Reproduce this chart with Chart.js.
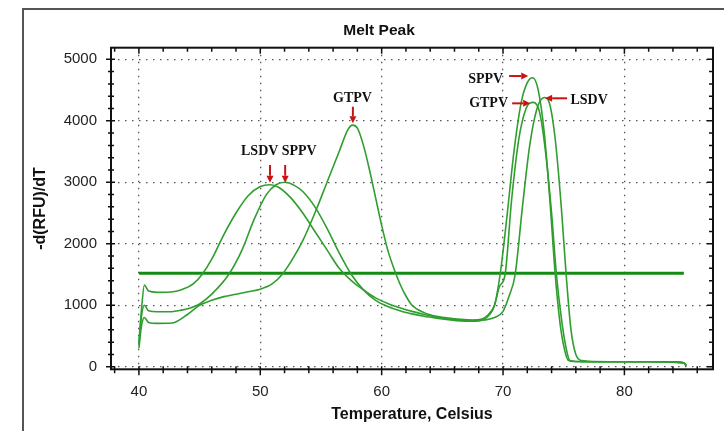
<!DOCTYPE html>
<html>
<head>
<meta charset="utf-8">
<script src="https://cdn.jsdelivr.net/npm/chart.js@4.4.1/dist/chart.umd.min.js"></script>
<style>
  html, body { margin: 0; padding: 0; background: #fff; }
  #wrap { width: 724px; height: 431px; }
</style>
</head>
<body>
<div id="wrap"><canvas id="meltChart" width="724" height="431"></canvas></div>
<script>
// melt peak curves, temperature (°C) vs -d(RFU)/dT
const lsdvT = [40.0, 40.2, 40.45, 40.8, 41.5, 42.6, 43.5, 44.5, 45.2, 46, 47, 48, 49, 50, 50.8, 51.5, 52.5, 53.5, 54.5, 55.5, 56.5, 57.5, 58.5, 59.5, 60.5, 61.5, 62.5, 63.5, 64.5, 65.5, 66.5, 67.5, 68.5, 69.3, 70.0, 70.5, 71.0, 71.6, 72.2, 72.8, 73.4, 73.8, 74.3, 74.8, 75.2, 75.6, 76.0, 76.5, 77.5, 80, 84.5, 84.9, 85.1];
const lsdvY = [400, 900, 1330, 1230, 1210, 1215, 1250, 1350, 1500, 1750, 2150, 2500, 2780, 2930, 2960, 2920, 2750, 2500, 2200, 1900, 1600, 1400, 1250, 1120, 1030, 960, 900, 850, 810, 780, 760, 750, 760, 800, 900, 1150, 1500, 2600, 3600, 4200, 4380, 4300, 3700, 2600, 1500, 600, 200, 100, 85, 80, 80, 60, 20];

const sppvT = [40.0, 40.2, 40.45, 40.8, 41.5, 42.7, 43.5, 44.3, 45, 46, 47.4, 48.5, 49.5, 50.5, 51.3, 52.05, 52.8, 53.5, 54.5, 55.5, 56.5, 57.5, 58.5, 59.5, 60.5, 61.5, 62.5, 63.5, 64.5, 65.5, 66.5, 67.5, 68.3, 68.9, 69.3, 69.76, 70.3, 70.9, 71.5, 72.0, 72.45, 72.9, 73.4, 73.9, 74.3, 74.7, 75.1, 75.4, 76, 78, 82, 84.9, 85.1];
const sppvY = [350, 800, 1000, 910, 895, 895, 920, 960, 1020, 1180, 1500, 1900, 2400, 2800, 2960, 3000, 2950, 2850, 2600, 2250, 1850, 1500, 1250, 1080, 980, 910, 860, 820, 790, 765, 745, 740, 760, 850, 1000, 1500, 2400, 3500, 4300, 4620, 4700, 4500, 3800, 2600, 1500, 700, 250, 100, 85, 80, 80, 60, 15];

const gtpvT = [40.0, 40.2, 40.45, 40.8, 41.5, 42.7, 44, 45, 46, 47, 48, 49, 50, 51, 51.8, 52.5, 53.5, 54.5, 55.5, 56.5, 57.2, 57.6, 58.0, 58.5, 59, 59.5, 60, 60.5, 61, 61.5, 62, 62.5, 63.5, 64.5, 65.5, 66.5, 67.5, 68.2, 68.8, 69.3, 69.7, 70.17, 70.7, 71.3, 71.9, 72.5, 73.0, 73.5, 74.0, 74.4, 74.8, 75.2, 75.5, 76, 78, 82, 84.9, 85.1];
const gtpvY = [300, 650, 800, 720, 705, 710, 850, 1000, 1080, 1140, 1180, 1220, 1260, 1350, 1500, 1700, 2050, 2500, 3000, 3500, 3850, 3930, 3880, 3600, 3200, 2750, 2300, 1900, 1600, 1350, 1150, 1000, 880, 820, 790, 770, 760, 770, 850, 1000, 1300, 1500, 2700, 3700, 4200, 4300, 4150, 3500, 2500, 1500, 800, 300, 100, 85, 80, 80, 60, 15];

const thresholdT = [40, 84.9];
const thresholdY = [1520, 1520];

const xTicks = [40, 50, 60, 70, 80];
const yTicks = [0, 1000, 2000, 3000, 4000, 5000];

const toPoints = (xs, ys) => xs.map((x, i) => ({ x: x, y: ys[i] }));

// peak labels: text position and arrow, in data units
const peakLabels = [
  { text: 'LSDV', tx: 49.95, ty: 3497, ax: [50.8, 3281], bx: [50.8, 2993] },
  { text: 'SPPV', tx: 53.2, ty: 3497, ax: [52.05, 3281], bx: [52.05, 2993] },
  { text: 'GTPV', tx: 57.6, ty: 4371, ax: [57.63, 4229], bx: [57.63, 3959] },
  { text: 'SPPV', tx: 68.57, ty: 4680, ax: [70.5, 4728], bx: [72.08, 4728] },
  { text: 'GTPV', tx: 68.81, ty: 4281, ax: [70.75, 4284], bx: [72.24, 4284] },
  { text: 'LSDV', tx: 77.09, ty: 4338, ax: [75.28, 4366], bx: [73.47, 4366] }
];

const curveColor = '#2f9e2f';
const sansFont = "'Liberation Sans', Arial, sans-serif";

const framePlugin = {
  id: 'frame',
  afterDraw(chart) {
    const { ctx, chartArea: a, scales } = chart;
    const xs = scales.x, ys = scales.y;
    ctx.save();

    // outer panel border
    ctx.strokeStyle = '#555';
    ctx.lineWidth = 2;
    ctx.strokeRect(23, 9, 760, 460);

    // title
    ctx.fillStyle = '#111';
    ctx.font = "bold 15.5px " + sansFont;
    ctx.textAlign = 'center';
    ctx.textBaseline = 'middle';
    ctx.fillText('Melt Peak', 379, 31);

    // plot frame
    ctx.strokeStyle = '#111';
    ctx.lineWidth = 2;
    ctx.strokeRect(a.left, a.top, a.right - a.left, a.bottom - a.top);

    // tick marks on all four sides
    ctx.lineWidth = 1.5;
    ctx.beginPath();
    for (let v = 38; v <= 87; v += 2) {
      const px = xs.getPixelForValue(v);
      if (px < a.left + 1 || px > a.right - 1) continue;
      const major = v % 10 === 0;
      ctx.moveTo(px, a.bottom - 3);
      ctx.lineTo(px, a.bottom + (major ? 6 : 4));
      ctx.moveTo(px, a.top);
      ctx.lineTo(px, a.top + (major ? 6 : 4));
    }
    for (let v = 0; v <= 5200; v += 200) {
      const py = ys.getPixelForValue(v);
      if (py < a.top + 1 || py > a.bottom - 1) continue;
      const major = v % 1000 === 0;
      ctx.moveTo(a.left - (major ? 5 : 3), py);
      ctx.lineTo(a.left + (major ? 4 : 3), py);
      ctx.moveTo(a.right, py);
      ctx.lineTo(a.right - (major ? 6 : 4), py);
    }
    ctx.stroke();

    // peak labels with red arrows
    ctx.font = "bold 14px 'Liberation Serif', 'Times New Roman', serif";
    ctx.fillStyle = '#111';
    peakLabels.forEach(p => {
      ctx.fillText(p.text, xs.getPixelForValue(p.tx), ys.getPixelForValue(p.ty));
      const x1 = xs.getPixelForValue(p.ax[0]), y1 = ys.getPixelForValue(p.ax[1]);
      const x2 = xs.getPixelForValue(p.bx[0]), y2 = ys.getPixelForValue(p.bx[1]);
      const ang = Math.atan2(y2 - y1, x2 - x1);
      const head = 7, half = 3.5;
      ctx.strokeStyle = '#c81414';
      ctx.fillStyle = '#c81414';
      ctx.lineWidth = 2;
      ctx.beginPath();
      ctx.moveTo(x1, y1);
      ctx.lineTo(x2 - head * Math.cos(ang), y2 - head * Math.sin(ang));
      ctx.stroke();
      ctx.beginPath();
      ctx.moveTo(x2, y2);
      ctx.lineTo(x2 - head * Math.cos(ang) + half * Math.sin(ang), y2 - head * Math.sin(ang) - half * Math.cos(ang));
      ctx.lineTo(x2 - head * Math.cos(ang) - half * Math.sin(ang), y2 - head * Math.sin(ang) + half * Math.cos(ang));
      ctx.closePath();
      ctx.fill();
      ctx.fillStyle = '#111';
    });
    ctx.restore();
  }
};

const curveSet = (label, xs, ys) => ({
  label: label,
  data: toPoints(xs, ys),
  borderColor: curveColor,
  borderWidth: 1.6,
  pointRadius: 0,
  showLine: true,
  tension: 0.35,
  cubicInterpolationMode: 'monotone'
});

new Chart(document.getElementById('meltChart'), {
  type: 'scatter',
  data: {
    datasets: [
      curveSet('LSDV', lsdvT, lsdvY),
      curveSet('SPPV', sppvT, sppvY),
      curveSet('GTPV', gtpvT, gtpvY),
      {
        label: 'Threshold',
        data: toPoints(thresholdT, thresholdY),
        borderColor: '#148c14',
        borderWidth: 3,
        pointRadius: 0,
        showLine: true
      }
    ]
  },
  options: {
    responsive: false,
    animation: false,
    devicePixelRatio: 1,
    layout: { padding: { left: 0, top: 47.7, right: 11, bottom: 0 } },
    plugins: { legend: { display: false }, tooltip: { enabled: false } },
    scales: {
      x: {
        type: 'linear',
        min: 37.7,
        max: 87.3,
        afterBuildTicks: s => { s.ticks = xTicks.map(v => ({ value: v })); },
        afterFit: s => { s.height = 61.7; },
        grid: { color: '#555', lineWidth: 1.3, drawTicks: false },
        border: { display: false, dash: [1.5, 5.5] },
        ticks: { padding: 14, color: '#222', font: { family: sansFont, size: 15 }, callback: v => String(v) },
        title: {
          display: true,
          text: 'Temperature, Celsius',
          color: '#111',
          font: { family: sansFont, size: 16, weight: 'bold' },
          padding: { top: 0, bottom: 7 }
        }
      },
      y: {
        type: 'linear',
        min: -42,
        max: 5189,
        afterBuildTicks: s => { s.ticks = yTicks.map(v => ({ value: v })); },
        afterFit: s => { s.width = 111; },
        grid: { color: '#555', lineWidth: 1.3, drawTicks: false },
        border: { display: false, dash: [1.5, 5.5] },
        ticks: { padding: 14, color: '#222', font: { family: sansFont, size: 15 }, callback: v => String(v) },
        title: {
          display: true,
          text: '-d(RFU)/dT',
          color: '#111',
          font: { family: sansFont, size: 16, weight: 'bold' },
          padding: { top: 31.4, bottom: 0 }
        }
      }
    }
  },
  plugins: [framePlugin]
});
</script>
</body>
</html>
